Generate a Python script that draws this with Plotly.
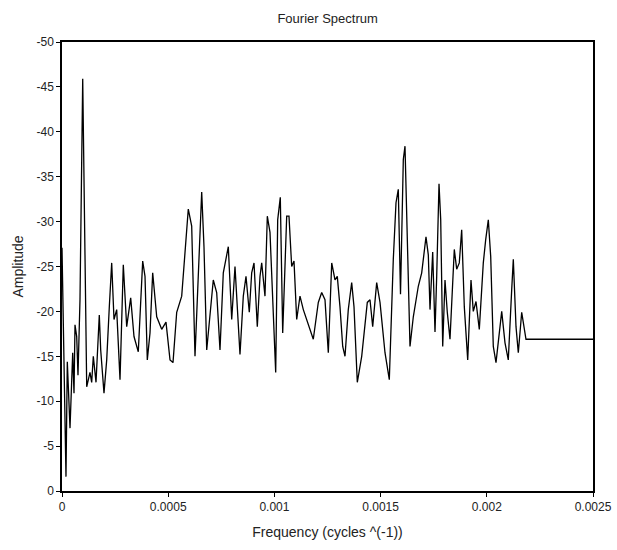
import plotly.graph_objects as go

# Frequency in units of 1e-5 cycles^-1
freq_e5 = [0, 1.41, 1.88, 2.50, 3.77, 5.04, 5.65, 6.12, 6.92, 7.53, 8.47, 9.75, 10.83, 11.63,
           13.18, 13.98, 14.74, 16.01, 17.56, 18.22, 19.77, 21.05, 22.27, 23.40, 24.48, 25.75,
           27.31, 28.86, 30.46, 32.34, 33.90, 35.92, 37.99, 39.08, 40.16, 41.43, 42.70, 44.59,
           46.94, 48.96, 50.85, 52.26, 54.00, 56.36, 59.46, 61.06, 62.62, 65.77, 66.85, 68.13,
           71.23, 72.83, 74.39, 75.94, 78.30, 79.90, 81.45, 83.80, 85.36, 86.63, 88.18, 89.31,
           90.40, 91.95, 93.22, 94.02, 95.57, 96.66, 97.93, 99.20, 100.61, 101.55, 102.78,
           103.91, 105.79, 106.87, 108.14, 109.23, 110.50, 112.05, 113.61, 118.31, 120.67,
           122.27, 123.82, 125.38, 126.98, 128.53, 129.61, 130.88, 132.16, 133.24, 134.79,
           136.39, 137.48, 139.03, 141.10, 143.74, 145.01, 146.28, 148.16, 149.72, 152.07,
           154.10, 155.98, 157.25, 158.33, 159.37, 160.69, 161.49, 162.29, 163.84, 165.40,
           167.75, 169.35, 171.37, 172.46, 173.26, 174.53, 175.61, 176.41, 177.50, 178.30,
           179.24, 180.32, 181.40, 182.67, 183.95, 184.70, 185.83, 187.05, 188.18, 189.41,
           191.01, 192.56, 193.64, 194.92, 196.47, 198.35, 199.48, 200.71, 201.84, 203.06,
           204.33, 205.89, 207.02, 208.57, 210.12, 211.72, 212.48, 213.75, 214.83, 216.43,
           217.51, 218.45, 250.0]

amplitude = [-27.1, -9.0, -1.6, -14.4, -7.0, -15.4, -10.9, -18.5, -17.2, -12.9, -21.3, -45.9,
             -27.2, -11.6, -13.2, -12.1, -15.0, -12.1, -19.6, -15.7, -10.9, -14.6, -20.5, -25.4,
             -19.1, -20.2, -12.4, -25.2, -18.3, -21.5, -17.2, -15.5, -25.6, -23.9, -14.6, -17.6,
             -24.3, -19.4, -18.0, -18.8, -14.6, -14.3, -19.9, -21.7, -31.4, -29.5, -15.0, -33.3,
             -27.2, -15.7, -23.5, -22.1, -15.7, -24.3, -27.2, -19.1, -25.0, -15.2, -21.7, -23.9,
             -19.9, -24.3, -25.4, -18.3, -23.9, -25.4, -21.7, -30.6, -28.8, -20.5, -13.2, -30.2,
             -32.7, -17.6, -30.6, -30.6, -25.0, -25.6, -19.1, -21.7, -20.2, -16.9, -21.0, -22.1,
             -21.3, -15.4, -25.4, -23.5, -23.9, -20.5, -16.1, -15.0, -20.2, -23.2, -20.5, -12.1,
             -15.0, -21.0, -21.3, -18.3, -23.2, -21.0, -15.4, -12.4, -25.8, -32.1, -33.6, -21.9,
             -36.9, -38.4, -30.6, -16.1, -19.4, -22.8, -24.3, -28.3, -26.3, -20.2, -26.6, -17.7,
             -23.9, -34.2, -30.2, -16.1, -23.5, -19.9, -16.9, -23.9, -26.9, -24.7, -25.4, -29.1,
             -20.5, -14.6, -23.5, -20.0, -21.1, -18.0, -25.4, -28.0, -30.2, -26.1, -16.1, -14.3,
             -18.0, -20.0, -16.5, -14.6, -22.4, -25.8, -18.3, -15.4, -19.9, -18.0, -16.9, -16.9]

freq = [f * 1e-5 for f in freq_e5]

x_tickvals = [0, 0.0005, 0.001, 0.0015, 0.002, 0.0025]
x_ticktext = ["0", "0.0005", "0.001", "0.0015", "0.002", "0.0025"]
y_tickvals = [0, -5, -10, -15, -20, -25, -30, -35, -40, -45, -50]
y_ticktext = ["0", "-5", "-10", "-15", "-20", "-25", "-30", "-35", "-40", "-45", "-50"]

fig = go.Figure()
fig.add_trace(go.Scatter(x=freq, y=amplitude, mode="lines",
                         line=dict(color="black", width=1.3), showlegend=False))

font_family = "Liberation Sans, Arial, sans-serif"
fig.update_layout(
    width=617, height=550,
    margin=dict(l=62, r=24, t=42, b=59),
    paper_bgcolor="white", plot_bgcolor="white",
    title=dict(text="Fourier Spectrum", x=0.531, xanchor="center", y=0.967, yanchor="middle",
               font=dict(family=font_family, size=13, color="#222")),
    font=dict(family=font_family, size=12, color="#222"),
)
fig.update_xaxes(
    range=[0, 0.0025], tickvals=x_tickvals, ticktext=x_ticktext,
    showgrid=False, zeroline=False, showline=True, linecolor="black", linewidth=1.5,
    mirror=True, ticks="outside", ticklen=4, tickcolor="black", automargin=False,
    title=dict(text="Frequency (cycles ^(-1))", font=dict(size=14, family=font_family), standoff=14),
)
fig.update_yaxes(
    range=[0, -50], tickvals=y_tickvals, ticktext=y_ticktext,
    showgrid=False, zeroline=False, showline=True, linecolor="black", linewidth=1.5,
    mirror=True, ticks="outside", ticklen=4, tickcolor="black", automargin=False,
    title=dict(text="Amplitude", font=dict(size=14, family=font_family), standoff=10),
)

fig.write_html("out.html", config={"displayModeBar": False},
               post_script="document.body.style.margin='0';")
